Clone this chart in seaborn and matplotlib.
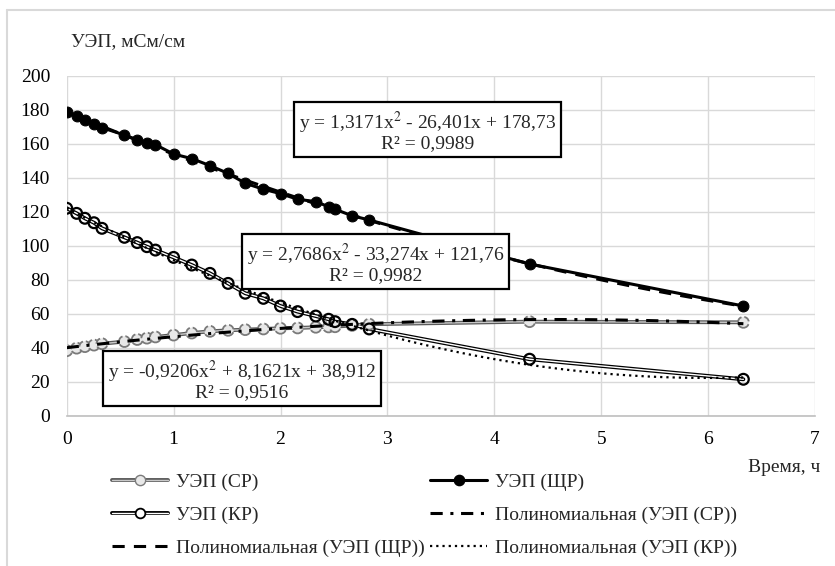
import numpy as np
import pandas as pd
import matplotlib
matplotlib.use("Agg")
import matplotlib.pyplot as plt
import seaborn as sns
from matplotlib.lines import Line2D
from matplotlib.legend_handler import HandlerTuple

# ---- data ----
time_h = [0.0, 0.093, 0.17, 0.255, 0.33, 0.54, 0.66, 0.75, 0.83, 1.0, 1.17, 1.34,
          1.51, 1.67, 1.84, 2.0, 2.16, 2.33, 2.45, 2.51, 2.67, 2.83, 4.33, 6.33]
uep_sr = [38.4, 39.9, 40.8, 41.7, 42.5, 43.8, 45.0, 45.8, 46.5, 47.6, 48.8, 49.8,
          50.4, 50.8, 51.2, 51.6, 51.8, 52.2, 52.4, 52.5, 53.3, 54.0, 55.5, 55.1]
uep_shr = [178.6, 176.5, 174.1, 172.0, 169.6, 165.3, 162.4, 160.4, 159.6, 154.1, 151.4, 147.3,
           142.7, 136.9, 133.4, 130.8, 127.5, 126.1, 123.1, 121.6, 117.8, 115.3, 89.4, 64.7]
uep_kr = [122.2, 119.2, 116.3, 113.7, 110.4, 105.1, 102.0, 99.6, 97.6, 93.3, 88.8, 83.9,
          78.0, 72.2, 69.2, 64.7, 61.4, 58.8, 56.9, 55.5, 53.9, 51.2, 33.4, 21.6]

x_ticks = [0, 1, 2, 3, 4, 5, 6, 7]
y_ticks = [0, 20, 40, 60, 80, 100, 120, 140, 160, 180, 200]

series_labels = ["УЭП (СР)", "УЭП (ЩР)", "УЭП (КР)"]
trend_labels = ["Полиномиальная (УЭП (СР))", "Полиномиальная (УЭП (ЩР))",
                "Полиномиальная (УЭП (КР))"]
eq_shr = "y = 1,3171x$^{2}$ - 26,401x + 178,73\nR² = 0,9989"
eq_kr = "y = 2,7686x$^{2}$ - 33,274x + 121,76\nR² = 0,9982"
eq_sr = "y = -0,9206x$^{2}$ + 8,1621x + 38,912\nR² = 0,9516"
y_title = "УЭП, мСм/см"
x_title = "Время, ч"

df = pd.DataFrame({"t": time_h, "sr": uep_sr, "shr": uep_shr, "kr": uep_kr})

# ---- style ----
sns.set_theme(style="white")
plt.rcParams["font.family"] = ["Liberation Serif", "DejaVu Serif"]
plt.rcParams["mathtext.fontset"] = "stix"
FS_EQ = 14
FS = 14

fig = plt.figure(figsize=(8.35, 5.66), dpi=100)
ax = fig.add_axes([66.7 / 835, 1 - 416 / 566, (815 - 66.7) / 835, (416 - 76) / 566])

# frame of the chart area (left and top visible)
fig.add_artist(Line2D([7 / 835, 7 / 835], [0, 1 - 10 / 566], transform=fig.transFigure,
                      color="#d9d9d9", lw=1.5))
fig.add_artist(Line2D([7 / 835, 1], [1 - 10 / 566, 1 - 10 / 566], transform=fig.transFigure,
                      color="#d9d9d9", lw=1.5))

# ---- series ----
# УЭП (СР): grey double line, grey dashed circles
sns.lineplot(data=df, x="t", y="sr", ax=ax, color="#5a5a5a", lw=2.8, sort=False, zorder=3)
sns.lineplot(data=df, x="t", y="sr", ax=ax, color="#c8c8c8", lw=1.0, sort=False, zorder=3.1)
ax.scatter(df["t"], df["sr"], s=62, facecolor="#e8e8e8", edgecolor="#7a7a7a",
           linewidths=1.3, linestyle="--", zorder=3.2)

# УЭП (КР): black double line, open circles
sns.lineplot(data=df, x="t", y="kr", ax=ax, color="black", lw=2.8, sort=False, zorder=3)
sns.lineplot(data=df, x="t", y="kr", ax=ax, color="white", lw=1.0, sort=False, zorder=3.1)
ax.scatter(df["t"], df["kr"], s=60, facecolor="none", edgecolor="black",
           linewidths=1.6, zorder=3.2)

# УЭП (ЩР): solid black line, filled circles
sns.lineplot(data=df, x="t", y="shr", ax=ax, color="black", lw=2.2, sort=False,
             marker="o", markersize=7.8, markerfacecolor="black", markeredgecolor="black",
             zorder=3.3)

# ---- polynomial trendlines (order-2 fits) ----
sns.regplot(data=df, x="t", y="sr", order=2, ci=None, scatter=False, ax=ax,
            line_kws=dict(color="black", lw=2.2, dashes=(4, 2.5, 1, 2.5), zorder=4))
sns.regplot(data=df, x="t", y="shr", order=2, ci=None, scatter=False, ax=ax,
            line_kws=dict(color="black", lw=2.2, dashes=(4, 3), zorder=4))
sns.regplot(data=df, x="t", y="kr", order=2, ci=None, scatter=False, ax=ax,
            line_kws=dict(color="black", lw=1.6, dashes=(1, 1.8), zorder=4))

# ---- axes ----
ax.set_xlim(x_ticks[0], x_ticks[-1])
ax.set_ylim(y_ticks[0], y_ticks[-1])
ax.set_xticks(x_ticks)
ax.set_yticks(y_ticks)
ax.set_xticklabels([str(v) for v in x_ticks], fontsize=FS)
ax.set_yticklabels([str(v) for v in y_ticks], fontsize=FS)
ax.set_xlabel("")
ax.set_ylabel("")
ax.grid(True, color="#d9d9d9", lw=1.0)
ax.set_axisbelow(True)
for s in ["top", "right", "left"]:
    ax.spines[s].set_visible(False)
ax.spines["bottom"].set_color("#bfbfbf")
ax.spines["bottom"].set_linewidth(1.2)
ax.tick_params(axis="both", length=0, colors="black")
ax.tick_params(axis="y", pad=12)
ax.tick_params(axis="x", pad=11)

# ---- equation boxes ----
box = dict(boxstyle="square,pad=0.25", facecolor="white", edgecolor="black", lw=1.6)
ax.text(3.377, 167.8, eq_shr, ha="center", va="center", fontsize=FS_EQ, linespacing=0.9,
        bbox=box, zorder=6, multialignment="center")
ax.text(2.888, 90.1, eq_kr, ha="center", va="center", fontsize=FS_EQ, linespacing=0.9,
        bbox=box, zorder=6, multialignment="center")
ax.text(1.64, 21.2, eq_sr, ha="center", va="center", fontsize=FS_EQ, linespacing=0.9,
        bbox=box, zorder=6, multialignment="center")

# ---- titles ----
fig.text(71 / 835, 1 - 42 / 566, y_title, ha="left", va="center", fontsize=FS)
fig.text(820 / 835, 1 - 468 / 566, x_title, ha="right", va="center", fontsize=FS)

# ---- legend ----
h_sr = (Line2D([], [], color="#5a5a5a", lw=2.8), Line2D([], [], color="#c8c8c8", lw=1.0),
        Line2D([], [], ls="none", marker="o", ms=7.4, mfc="#e8e8e8", mec="#7a7a7a", mew=1.0))
h_kr = (Line2D([], [], color="black", lw=2.8), Line2D([], [], color="white", lw=1.0),
        Line2D([], [], ls="none", marker="o", ms=7.0, mfc="white", mec="black", mew=1.3))
h_shr = Line2D([], [], color="black", lw=2.2, marker="o", ms=7.4, mfc="black", mec="black")
h_tsr = Line2D([], [], color="black", lw=2.2, dashes=(4, 2.5, 1, 2.5))
h_tshr = Line2D([], [], color="black", lw=2.2, dashes=(4, 3))
h_tkr = Line2D([], [], color="black", lw=1.6, dashes=(1, 1.8))

handles = [h_sr, h_kr, h_tshr, h_shr, h_tsr, h_tkr]
labels = [series_labels[0], series_labels[2], trend_labels[1],
          series_labels[1], trend_labels[0], trend_labels[2]]
fig.legend(handles, labels, loc="upper left", bbox_to_anchor=(111.7 / 835, 1 - 473 / 566),
           ncol=2, frameon=False, fontsize=FS, handlelength=2.9, handletextpad=0.4,
           columnspacing=0.3, labelspacing=0.8, borderpad=0, borderaxespad=0,
           numpoints=1, handler_map={tuple: HandlerTuple(ndivide=1)})

fig.savefig("out.png", dpi=100, facecolor="white")
